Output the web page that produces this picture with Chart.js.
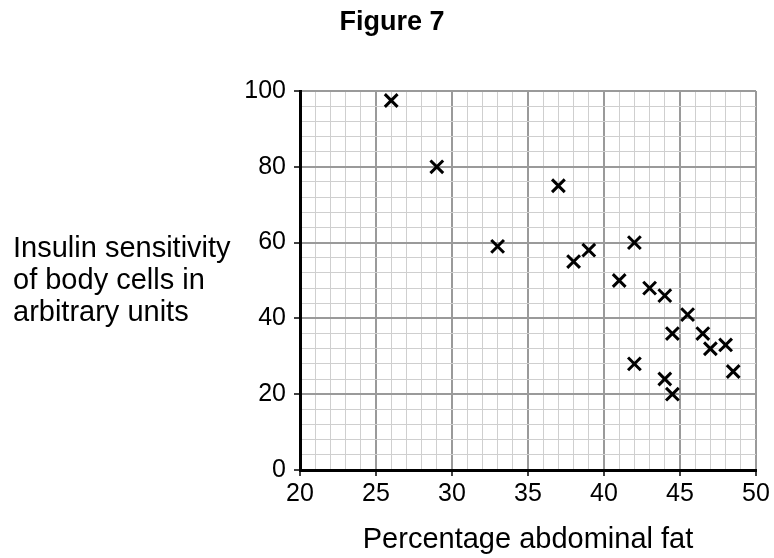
<!DOCTYPE html>
<html>
<head>
<meta charset="utf-8">
<script src="https://cdn.jsdelivr.net/npm/chart.js@4"></script>
<style>
  html, body { margin: 0; padding: 0; background: #fff; }
  #wrap { position: relative; width: 774px; height: 558px; font-family: "Liberation Sans", Arial, sans-serif; color: #000; }
  #fig { position: absolute; left: 0; width: 784px; top: 6px; text-align: center; font-weight: bold; font-size: 27px; line-height: 30px; }
  #ylab { position: absolute; left: 13px; top: 231px; font-size: 29px; line-height: 32px; }
  #xlab { position: absolute; left: 300px; width: 456px; top: 522px; text-align: center; font-size: 29px; line-height: 32px; }
  canvas { position: absolute; left: 0; top: 0; }
</style>
</head>
<body>
<div id="wrap">
  <canvas id="chart" width="774" height="558"></canvas>
  <div id="fig">Figure 7</div>
  <div id="ylab">Insulin sensitivity<br>of body cells in<br>arbitrary units</div>
  <div id="xlab">Percentage abdominal fat</div>
</div>
<script>
// ---------------------------------------------------------------
//  Data
// ---------------------------------------------------------------
const fatPct      = [26, 29, 33, 37, 38, 39, 41, 42, 42, 43, 44, 44, 44.5, 44.5, 45.5, 46.5, 47, 48, 48.5];
const sensitivity = [97.5, 80, 59, 75, 55, 58, 50, 60, 28, 48, 46, 24, 36, 20, 41, 36, 32, 33, 26];

const xLabels = [20, 25, 30, 35, 40, 45, 50];
const yLabels = [0, 20, 40, 60, 80, 100];

const FONT = "'Liberation Sans', Arial, sans-serif";
const MAJOR = "#9a9a9a";
const MINOR = "#cfcfcf";

const points = fatPct.map((x, i) => ({ x, y: sensitivity[i] }));

function isMajor(list, v) { return list.includes(v); }

new Chart(document.getElementById("chart"), {
  type: "scatter",
  data: {
    datasets: [{
      data: points,
      pointStyle: "crossRot",
      pointRadius: 9,
      pointBorderWidth: 3,
      borderColor: "#000",
      backgroundColor: "#000",
    }],
  },
  options: {
    responsive: false,
    animation: false,
    layout: { padding: { left: 240, right: 18, top: 91, bottom: 0 } },
    plugins: { legend: { display: false }, tooltip: { enabled: false } },
    scales: {
      x: {
        type: "linear",
        min: 20,
        max: 50,
        afterFit: s => { s.height = 88; },
        ticks: {
          stepSize: 1,
          autoSkip: false,
          maxRotation: 0,
          padding: 3,
          color: "#000",
          font: { family: FONT, size: 25 },
          callback: v => isMajor(xLabels, v) ? String(v) : "",
        },
        grid: {
          color: c => isMajor(xLabels, c.tick.value) ? MAJOR : MINOR,
          lineWidth: c => isMajor(xLabels, c.tick.value) ? 2 : 1,
          tickColor: c => isMajor(xLabels, c.tick.value) ? "#000" : "rgba(0,0,0,0)",
          tickLength: 6,
          tickWidth: 1.5,
        },
        border: { color: "#000", width: 3 },
      },
      y: {
        type: "linear",
        min: 0,
        max: 100,
        afterFit: s => { s.width = 60; },
        ticks: {
          stepSize: 4,
          autoSkip: false,
          padding: 8,
          color: "#000",
          font: { family: FONT, size: 25 },
          callback: v => isMajor(yLabels, v) ? String(v) : "",
        },
        grid: {
          color: c => isMajor(yLabels, c.tick.value) ? MAJOR : MINOR,
          lineWidth: c => isMajor(yLabels, c.tick.value) ? 2 : 1,
          tickColor: c => isMajor(yLabels, c.tick.value) ? "#000" : "rgba(0,0,0,0)",
          tickLength: 6,
          tickWidth: 1.5,
        },
        border: { color: "#000", width: 3 },
      },
    },
  },
});
</script>
</body>
</html>
